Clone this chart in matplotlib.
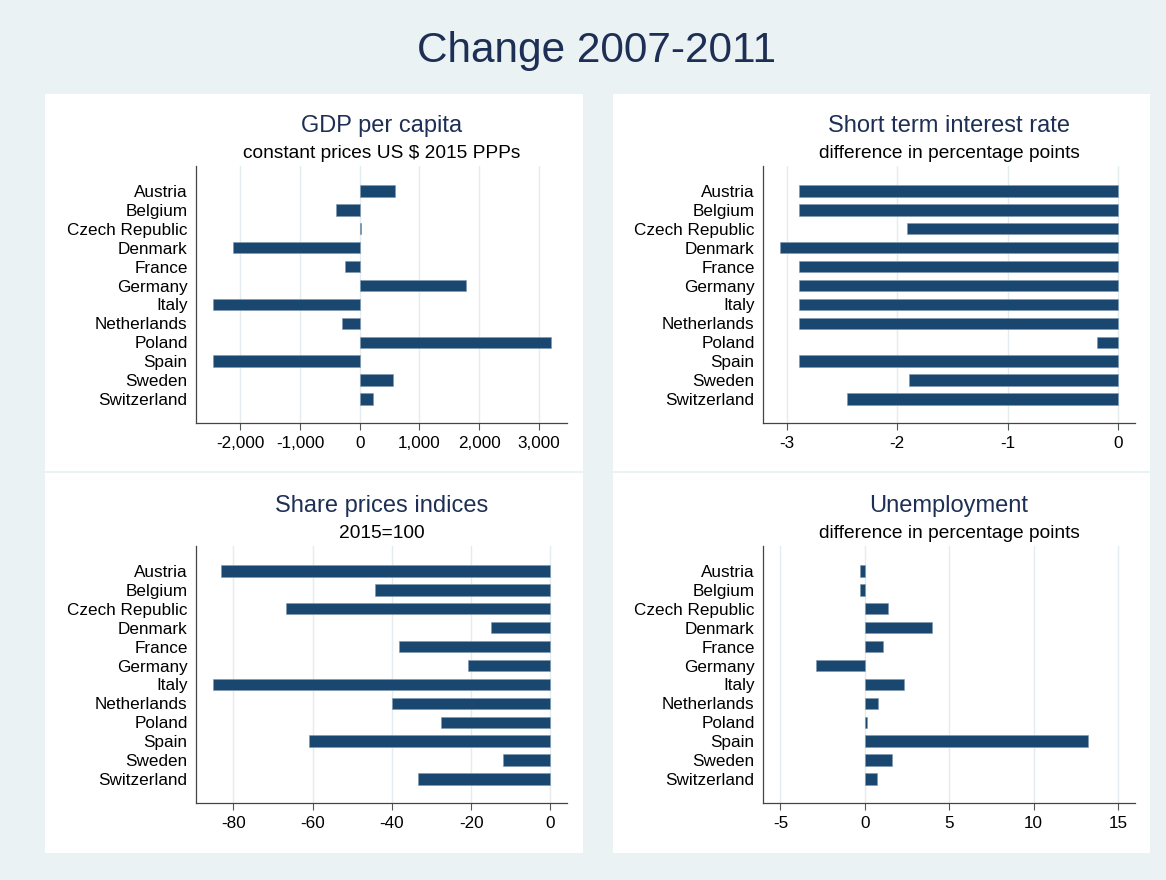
import numpy as np
import matplotlib
matplotlib.use("Agg")
import matplotlib.pyplot as plt
from matplotlib.patches import Rectangle

plt.rcParams['font.family'] = ['Liberation Sans', 'DejaVu Sans']
plt.rcParams['axes.unicode_minus'] = False

countries = ["Austria", "Belgium", "Czech Republic", "Denmark", "France", "Germany",
             "Italy", "Netherlands", "Poland", "Spain", "Sweden", "Switzerland"]

gdp = [597, -402, 20, -2114, -245, 1779, -2460, -296, 3196, -2448, 563, 218]
interest = [-2.886, -2.886, -1.908, -3.058, -2.886, -2.886, -2.886, -2.886, -0.19, -2.886, -1.896, -2.454]
shares = [-83.2, -44.2, -66.6, -14.9, -38.1, -20.9, -85.2, -40.0, -27.6, -60.9, -12.0, -33.4]
unemp = [-0.3, -0.3, 1.4, 4.0, 1.1, -2.9, 2.3, 0.8, 0.1, 13.2, 1.6, 0.7]

W, H = 1166, 880
BG = "#eaf2f3"
BAR = "#1a476f"
TITLE = "#1e2f55"

fig = plt.figure(figsize=(W / 100, H / 100), dpi=100, facecolor=BG)

def px(x0, y0, x1, y1):
    # pixel box (top-left origin) -> figure fraction rect
    return [x0 / W, 1 - y1 / H, (x1 - x0) / W, (y1 - y0) / H]

# white panel backgrounds
for (x0, y0, x1, y1) in [(45, 94, 583, 471), (613, 94, 1150, 471),
                         (45, 473, 583, 853), (613, 473, 1150, 853)]:
    r = px(x0, y0, x1, y1)
    fig.add_artist(Rectangle((r[0], r[1]), r[2], r[3], transform=fig.transFigure,
                             facecolor="white", edgecolor="none", zorder=0))

fig.text(597 / W, 1 - 51 / H, "Change 2007-2011", ha="center", va="center",
         fontsize=30.5, color=TITLE)

panels = [
    (gdp, "GDP per capita", "constant prices US $ 2015 PPPs",
     (196, 166, 567, 423), (-2740, 3470), [-2000, -1000, 0, 1000, 2000, 3000], True),
    (interest, "Short term interest rate", "difference in percentage points",
     (763, 166, 1135, 423), (-3.215, 0.151), [-3, -2, -1, 0], False),
    (shares, "Share prices indices", "2015=100",
     (196, 546, 567, 803), (-89.4, 4.2), [-80, -60, -40, -20, 0], False),
    (unemp, "Unemployment", "difference in percentage points",
     (763, 546, 1135, 803), (-6.03, 16.0), [-5, 0, 5, 10, 15], False),
]

y = np.arange(len(countries))
for vals, title, sub, box, xlim, ticks, comma in panels:
    ax = fig.add_axes(px(*box))
    ax.set_facecolor("white")
    ax.barh(y, vals, height=0.6, color=BAR, edgecolor="#7f98b0", linewidth=0.4, zorder=3)
    ax.set_xlim(*xlim)
    ax.set_ylim(11 + 1.27, -1.32)
    ax.set_yticks(y)
    ax.set_yticklabels(countries)
    ax.set_xticks(ticks)
    if comma:
        ax.set_xticklabels([f"{t:,}" for t in ticks])
    else:
        ax.set_xticklabels([str(t) for t in ticks])
    ax.tick_params(axis="y", length=0, pad=6, labelsize=12.3)
    ax.tick_params(axis="x", length=5, width=0.8, color="#555555", labelsize=12.3, pad=4)
    ax.grid(axis="x", color="#e3ecee", linewidth=1, zorder=0)
    for s in ["top", "right"]:
        ax.spines[s].set_visible(False)
    for s in ["left", "bottom"]:
        ax.spines[s].set_color("#444444")
        ax.spines[s].set_linewidth(0.9)
    cx = (box[0] + box[2]) / 2
    fig.text(cx / W, 1 - (box[1] - 40) / H, title, ha="center", va="center",
             fontsize=17, color=TITLE)
    fig.text(cx / W, 1 - (box[1] - 13) / H, sub, ha="center", va="center",
             fontsize=13.8, color="black")

fig.savefig("out.png", dpi=100, facecolor=BG)
